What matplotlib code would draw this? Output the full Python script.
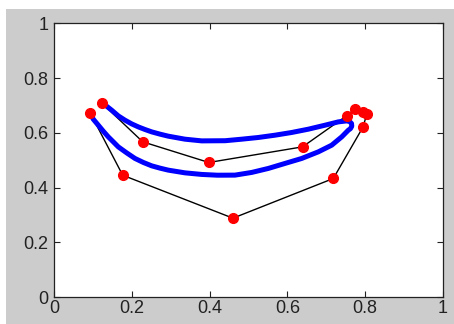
import matplotlib
matplotlib.use("Agg")
import matplotlib.pyplot as plt
from matplotlib.patches import Rectangle

# control polygon (red points joined by black lines)
ctrl_x = [0.1226, 0.228, 0.398, 0.639, 0.753, 0.774, 0.795, 0.804, 0.794,
          0.718, 0.460, 0.1766, 0.0925]
ctrl_y = [0.709, 0.567, 0.4915, 0.5486, 0.663, 0.688, 0.676, 0.667, 0.620,
          0.433, 0.288, 0.445, 0.674]

# blue curve
curve_x = [0.1226, 0.1354, 0.1483, 0.1653, 0.1825, 0.1997, 0.2167, 0.2339,
           0.2512, 0.2725, 0.2938, 0.3368, 0.3797, 0.4400, 0.4825, 0.5252,
           0.5681, 0.6111, 0.6537, 0.6967, 0.7308, 0.7524, 0.7600, 0.7648,
           0.7655, 0.7620, 0.7566, 0.7396, 0.7139, 0.6794, 0.6368, 0.5938,
           0.5509, 0.5082, 0.4653, 0.4200, 0.3797, 0.3368, 0.2938, 0.2725,
           0.2512, 0.2296, 0.2082, 0.1868, 0.1653, 0.1525, 0.1396, 0.1267,
           0.1139, 0.1010, 0.0925]
curve_y = [0.7106, 0.6970, 0.6825, 0.6617, 0.6460, 0.6325, 0.6215, 0.6120,
           0.6033, 0.5950, 0.5876, 0.5766, 0.5704, 0.5710, 0.5766, 0.5828,
           0.5912, 0.6011, 0.6131, 0.6277, 0.6398, 0.6434, 0.6410, 0.6340,
           0.6240, 0.6150, 0.6095, 0.5850, 0.5547, 0.5303, 0.5062, 0.4880,
           0.4697, 0.4551, 0.4453, 0.4450, 0.4478, 0.4536, 0.4635, 0.4708,
           0.4792, 0.4916, 0.5062, 0.5266, 0.5485, 0.5668, 0.5850, 0.6058,
           0.6277, 0.6496, 0.6741]

ticks = [0, 0.2, 0.4, 0.6, 0.8, 1]
tick_labels = ["0", "0.2", "0.4", "0.6", "0.8", "1"]

plt.rcParams['font.family'] = ['Liberation Sans', 'DejaVu Sans']

fig = plt.figure(figsize=(4.54, 3.24), dpi=100, facecolor='white')
# grey MATLAB-style figure panel
fig.patches.append(Rectangle((6 / 454, 0), 448 / 454, 315 / 324,
                             transform=fig.transFigure, facecolor='#cccccc',
                             edgecolor='none', zorder=-10))

ax = fig.add_axes([54 / 454, 27 / 324, 389 / 454, 273.7 / 324])
ax.set_facecolor('white')

ax.plot(ctrl_x, ctrl_y, color='black', linewidth=1.0, zorder=2)
ax.plot(curve_x, curve_y, color='#0000ff', linewidth=3.6,
        solid_joinstyle='round', solid_capstyle='round', zorder=3)
ax.plot(ctrl_x, ctrl_y, linestyle='none', marker='o', markersize=7,
        markerfacecolor='red', markeredgecolor='red', zorder=4)

ax.set_xlim(0, 1)
ax.set_ylim(0, 1)
ax.set_xticks(ticks)
ax.set_yticks(ticks)
ax.set_xticklabels(tick_labels)
ax.set_yticklabels(tick_labels)
ax.tick_params(direction='in', length=4, width=0.8, labelsize=13,
               top=True, right=True, colors='#222222')
ax.tick_params(axis='x', pad=2)
ax.tick_params(axis='y', pad=4)
for s in ax.spines.values():
    s.set_color('#222222')
    s.set_linewidth(0.9)

fig.savefig('out.png', dpi=100, facecolor=fig.get_facecolor())
